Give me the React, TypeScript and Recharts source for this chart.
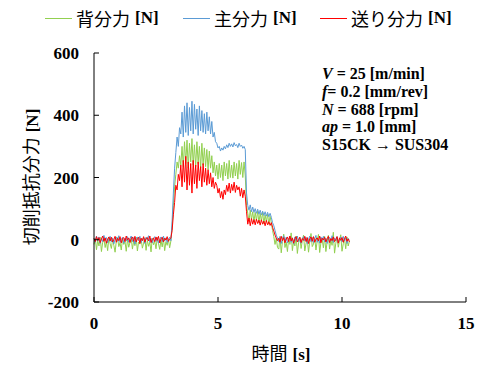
import React from "react";
import { LineChart, Line, XAxis, YAxis } from "recharts";

const SAMPLE_STEP = 0.05;

const mainForce = [
  5, -8, 12, -3, 9, -12, 4, -6, 14, -2, 7, -10, 3, 11, -7, 6, -13, 2, 9, -5,
  13, -9, 1, 8, -11, 5, -4, 10, -8, 3, 12, -6, 7, -14, 4, 9, -3, 11, -9, 2,
  6, -12, 8, -1, 13, -7, 5, -10, 3, 10, -5, 7, -11, 1, 9, -6, 12, -4, 6, -9,
  2, 8, -3,
  60, 150, 230, 280, 330, 300, 360,
  340, 410, 330, 430, 345, 440, 335, 425, 350, 445, 340, 435, 355, 420, 335, 430, 350, 415, 345, 405,
  340, 410, 350, 395, 340, 380, 330, 345, 315,
  310, 295, 300, 285, 295, 288, 300, 292, 305, 296, 310, 300, 308, 298, 312, 302, 306, 296, 310, 300,
  304, 294, 300, 290,
  150, 110, 95, 112, 90, 105, 88, 100, 85, 98, 82, 95, 80, 92, 78, 90, 76, 88, 74, 85, 72,
  55, 45, 30, 15, 5,
  -6, 10, -12, 4, 13, -5, 8, -10, 2, 11, -8, 6, -14, 9, -3, 12, -7, 5, -11, 3,
  10, -4, 8, -13, 1, 12, -6, 7, -9, 4, 14, -8, 2, -11, 9, -2, 11, -7, 5, -12,
  3, 8, -5, 13, -9, 6, -3, 10, -10, 2, 9, -6, 11, -4, 7, -12, 4, -2,
];

const backForce = [
  -15, 5, -32, -2, -20, 8, -38, -8, 3, -25, -5, -35, 6, -12, -28, 2, -18, -40, -4, 7,
  -22, -10, -33, 4, -15, -6, -37, 1, -24, -9, 5, -30, -3, -19, 8, -36, -7, -14, 3, -27,
  -11, 6, -34, -2, -21, -8, -39, 4, -16, -5, -29, 7, -12, -31, -1, -23, 5, -35, -6, -18,
  2, -26, -4,
  40, 110, 170, 210, 250, 230, 270,
  240, 300, 235, 315, 245, 320, 230, 310, 250, 325, 240, 305, 235, 315, 245, 300, 230, 310, 240, 295,
  235, 290, 225, 285, 230, 270, 215, 250, 205,
  240, 195, 245, 200, 240, 190, 250, 205, 245, 195, 255, 200, 240, 198, 250, 205, 245, 195, 255, 210,
  248, 200, 250, 205,
  110, 85, 60, 95, 65, 90, 58, 88, 62, 92, 55, 85, 60, 88, 52, 80, 58, 82, 50, 75, 55,
  30, 10, -15, 5, -25,
  -30, 10, -42, -5, 18, -25, -8, -38, 5, -15, 22, -35, -3, -20, 12, -44, -10, 8, -28, -2,
  15, -36, -12, 3, -40, -6, 20, -22, -14, 6, -33, -4, 17, -41, -9, 2, -26, 11, -38, -7,
  14, -30, -1, -18, 24, -43, -11, 7, -24, -3, 16, -37, -13, 4, -29, 9, -20, -5,
];

const feedForce = [
  4, -6, 10, -2, 7, -9, 3, 12, -5, 6, -11, 2, 9, -4, 8, -7, 1, 11, -8, 5,
  -3, 10, -10, 4, 7, -6, 12, -1, 6, -9, 3, 9, -5, 11, -7, 2, 8, -12, 5, -3,
  10, -8, 4, 7, -4, 12, -9, 1, 6, -6, 9, -2, 11, -10, 3, 8, -7, 5, -1, 10,
  -5, 2, 6,
  30, 80, 120, 175, 160, 210, 190,
  240, 170, 255, 185, 268, 160, 250, 175, 245, 150, 255, 180, 240, 165, 250, 190, 235, 170, 245, 185,
  230, 175, 225, 180, 215, 170, 200, 165, 185,
  175, 150, 165, 135, 155, 130, 160, 145, 175, 155, 182, 150, 178, 158, 185, 152, 175, 160, 170, 140,
  165, 135, 160, 140,
  90, 50, 70, 45, 68, 50, 65, 48, 66, 52, 63, 47, 64, 50, 60, 45, 62, 48, 58, 46, 55,
  40, 28, 15, 5, -3,
  5, -8, 11, -3, 7, -10, 2, 9, -6, 12, -4, 6, -11, 3, 10, -7, 1, 8, -9, 4,
  -2, 11, -6, 7, -12, 3, 9, -5, 10, -8, 2, 6, -4, 12, -10, 5, -1, 8, -7, 3,
  11, -9, 4, -3, 9, -6, 1, 10, -11, 6, -2, 7, -8, 4, 12, -5, 3, -7,
];

const xTicks = [0, 5, 10, 15];
const yTicks = [-200, 0, 200, 400, 600];

const seriesNames = ["背分力", "主分力", "送り分力"];
const seriesColors = ["#92D050", "#5B9BD5", "#FF0000"];
const seriesKeys = ["back", "main", "feed"];

const conditions = [
  { v: "V", rest: " = 25 [m/min]" },
  { v: "f", rest: "= 0.2 [mm/rev]" },
  { v: "N", rest: " = 688 [rpm]" },
  { v: "ap", rest: " = 1.0 [mm]" },
  { v: "", rest: "S15CK → SUS304" },
];

const data = mainForce.map((_, i) => ({
  t: Math.round(i * SAMPLE_STEP * 100) / 100,
  back: backForce[i],
  main: mainForce[i],
  feed: feedForce[i],
}));

const serif = "'Liberation Serif', 'Times New Roman', serif";
const cjk = "'Noto Sans CJK JP', sans-serif";
const tickStyle = { fontFamily: serif, fontWeight: 700, fontSize: 17, fill: "#000" };
const legendLeft = [45, 183, 320];

export default function App() {
  return (
    <div style={{ position: "absolute", left: 0, top: 0, width: 491, height: 378, background: "#fff" }}>
      <LineChart width={491} height={378} data={data} margin={{ top: 53, right: 25, bottom: 46, left: 34 }}>
        <XAxis
          dataKey="t"
          type="number"
          domain={[0, 15]}
          ticks={xTicks}
          height={30}
          stroke="#000"
          tickSize={-5}
          tickMargin={20}
          tick={tickStyle}
        />
        <XAxis xAxisId="top" orientation="top" type="number" domain={[0, 15]} height={0} stroke="#000" tick={false} tickLine={false} />
        <YAxis
          type="number"
          domain={[-200, 600]}
          ticks={yTicks}
          width={60}
          stroke="#000"
          tickSize={-5}
          tickMargin={20}
          tick={tickStyle}
        />
        <YAxis yAxisId="right" orientation="right" domain={[-200, 600]} width={0} stroke="#000" tick={false} tickLine={false} />
        {seriesKeys.map((k, i) => (
          <Line key={k} type="linear" dataKey={k} stroke={seriesColors[i]} strokeWidth={1} dot={false} isAnimationActive={false} />
        ))}
      </LineChart>

      {seriesNames.map((name, i) => (
        <div key={name} style={{ position: "absolute", left: legendLeft[i], top: 6, height: 24, display: "flex", alignItems: "center", whiteSpace: "nowrap" }}>
          <div style={{ width: 27, height: 0, borderTop: `1.5px solid ${seriesColors[i]}`, marginRight: 4 }} />
          <span style={{ fontFamily: cjk, fontSize: 18 }}>{name}</span>
          <span style={{ fontFamily: serif, fontWeight: 700, fontSize: 17, marginLeft: 5 }}>[N]</span>
        </div>
      ))}

      <div style={{ position: "absolute", left: 322, top: 65, fontFamily: serif, fontWeight: 700, fontSize: 16, lineHeight: "17.8px", whiteSpace: "nowrap" }}>
        {conditions.map((c, i) => (
          <div key={i}>
            {c.v && <i>{c.v}</i>}
            {c.rest}
          </div>
        ))}
      </div>

      <div style={{ position: "absolute", left: 30, top: 177, transform: "translate(-50%, -50%) rotate(-90deg)", whiteSpace: "nowrap" }}>
        <span style={{ fontFamily: cjk, fontSize: 18 }}>切削抵抗分力</span>
        <span style={{ fontFamily: serif, fontWeight: 700, fontSize: 17, marginLeft: 5 }}>[N]</span>
      </div>

      <div style={{ position: "absolute", left: 281, top: 352, transform: "translate(-50%, -50%)", whiteSpace: "nowrap" }}>
        <span style={{ fontFamily: cjk, fontSize: 18 }}>時間</span>
        <span style={{ fontFamily: serif, fontWeight: 700, fontSize: 17, marginLeft: 5 }}>[s]</span>
      </div>
    </div>
  );
}
